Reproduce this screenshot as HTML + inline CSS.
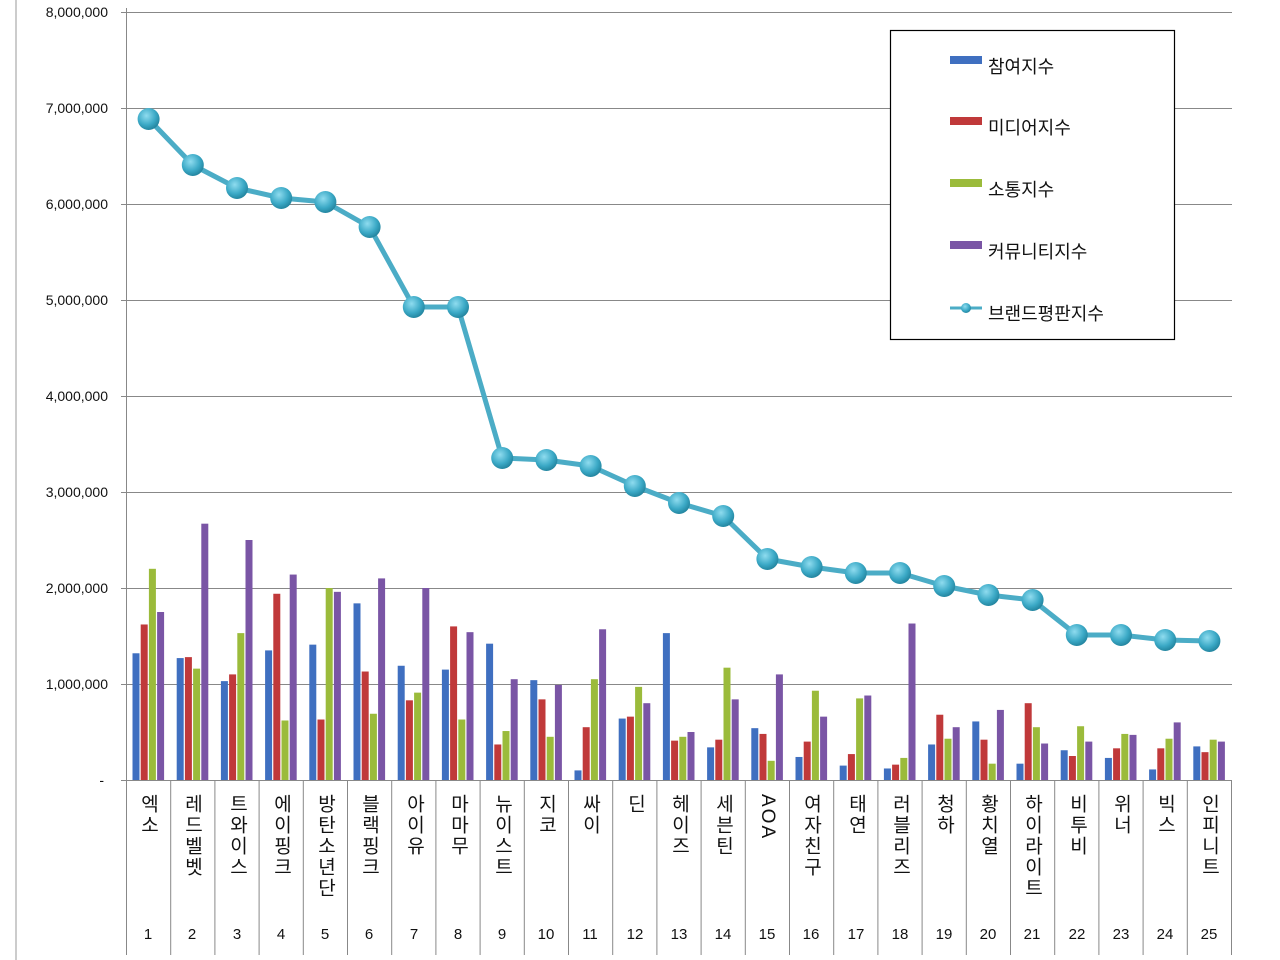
<!DOCTYPE html>
<html><head><meta charset="utf-8"><style>
body{margin:0;background:#fff;width:1280px;height:960px;overflow:hidden;position:relative;font-family:"Liberation Sans","Noto Sans CJK KR",sans-serif}
.lab{position:absolute;top:794px;writing-mode:vertical-lr;text-orientation:mixed;font-size:19px;letter-spacing:2px;color:#111;transform:translateX(-50%)}
</style></head><body>
<svg id="s" width="1280" height="960" style="position:absolute;left:0;top:0">
<defs>
<radialGradient id="mk" cx="0.4" cy="0.35" r="0.7"><stop offset="0" stop-color="#8fdcef"/><stop offset="0.6" stop-color="#3ba9c6"/><stop offset="1" stop-color="#1f7f99"/></radialGradient>
</defs>
<line x1="16" y1="0" x2="16" y2="960" stroke="#999" stroke-width="1"/>
<g font-size="14" fill="#111" text-anchor="end">
<text x="108" y="17">8,000,000</text>
<text x="108" y="113">7,000,000</text>
<text x="108" y="209">6,000,000</text>
<text x="108" y="305">5,000,000</text>
<text x="108" y="401">4,000,000</text>
<text x="108" y="497">3,000,000</text>
<text x="108" y="593">2,000,000</text>
<text x="108" y="689">1,000,000</text>
<text x="104" y="785">-</text>
</g>
<g id="grid"></g>
<g id="bars"></g>
<g id="line"></g>
<g font-size="15" fill="#111" text-anchor="middle">
<text x="148" y="939">1</text><text x="192" y="939">2</text><text x="237" y="939">3</text><text x="281" y="939">4</text><text x="325" y="939">5</text><text x="369" y="939">6</text><text x="414" y="939">7</text><text x="458" y="939">8</text><text x="502" y="939">9</text><text x="546" y="939">10</text><text x="590" y="939">11</text><text x="635" y="939">12</text><text x="679" y="939">13</text><text x="723" y="939">14</text><text x="767" y="939">15</text><text x="811" y="939">16</text><text x="856" y="939">17</text><text x="900" y="939">18</text><text x="944" y="939">19</text><text x="988" y="939">20</text><text x="1032" y="939">21</text><text x="1077" y="939">22</text><text x="1121" y="939">23</text><text x="1165" y="939">24</text><text x="1209" y="939">25</text>
</g>
<rect x="890.5" y="30.5" width="284" height="309" fill="#fff" stroke="#000" stroke-width="1.2"/>
<rect x="950" y="56" width="32" height="8" fill="#3f6fc0"/>
<rect x="950" y="117" width="32" height="8" fill="#c0393a"/>
<rect x="950" y="179" width="32" height="8" fill="#9bbb3b"/>
<rect x="950" y="241" width="32" height="8" fill="#7a55a5"/>
<line x1="950" y1="308" x2="982" y2="308" stroke="#4bacc6" stroke-width="3"/>
<circle cx="966" cy="308" r="5" fill="url(#mk)"/>
<g font-size="18" fill="#111">
<text x="988" y="73">참여지수</text>
<text x="988" y="134">미디어지수</text>
<text x="988" y="196">소통지수</text>
<text x="988" y="258">커뮤니티지수</text>
<text x="988" y="320">브랜드평판지수</text>
</g>
</svg>
<div class="lab" style="left:148px">엑소</div>
<div class="lab" style="left:192px">레드벨벳</div>
<div class="lab" style="left:237px">트와이스</div>
<div class="lab" style="left:281px">에이핑크</div>
<div class="lab" style="left:325px">방탄소년단</div>
<div class="lab" style="left:369px">블랙핑크</div>
<div class="lab" style="left:414px">아이유</div>
<div class="lab" style="left:458px">마마무</div>
<div class="lab" style="left:502px">뉴이스트</div>
<div class="lab" style="left:546px">지코</div>
<div class="lab" style="left:590px">싸이</div>
<div class="lab" style="left:635px">딘</div>
<div class="lab" style="left:679px">헤이즈</div>
<div class="lab" style="left:723px">세븐틴</div>
<div class="lab" style="left:767px">AOA</div>
<div class="lab" style="left:811px">여자친구</div>
<div class="lab" style="left:856px">태연</div>
<div class="lab" style="left:900px">러블리즈</div>
<div class="lab" style="left:944px">청하</div>
<div class="lab" style="left:988px">황치열</div>
<div class="lab" style="left:1032px">하이라이트</div>
<div class="lab" style="left:1077px">비투비</div>
<div class="lab" style="left:1121px">위너</div>
<div class="lab" style="left:1165px">빅스</div>
<div class="lab" style="left:1209px">인피니트</div>
<script>
var NS="http://www.w3.org/2000/svg";
function el(p,t,a){var e=document.createElementNS(NS,t);for(var k in a)e.setAttribute(k,a[k]);document.getElementById(p).appendChild(e);return e;}
var L=126.5,W=44.2,Y0=780,S=96;
for(var i=1;i<=8;i++){var y=Y0-i*S+0.5;el("grid","line",{x1:121,x2:1232,y1:y,y2:y,stroke:"#888","stroke-width":1});}
el("grid","line",{x1:121,x2:1232,y1:780.5,y2:780.5,stroke:"#888","stroke-width":1});
el("grid","line",{x1:L,x2:L,y1:8,y2:955,stroke:"#888","stroke-width":1});
for(var i=1;i<=25;i++){var x=L+W*i;el("grid","line",{x1:x,x2:x,y1:780,y2:955,stroke:"#888","stroke-width":1});}
var D=[[1.32,1.62,2.2,1.75],[1.27,1.28,1.16,2.67],[1.03,1.1,1.53,2.5],[1.35,1.94,0.62,2.14],[1.41,0.63,2.0,1.96],[1.84,1.13,0.69,2.1],[1.19,0.83,0.91,2.0],[1.15,1.6,0.63,1.54],[1.42,0.37,0.51,1.05],[1.04,0.84,0.45,0.99],[0.1,0.55,1.05,1.57],[0.64,0.66,0.97,0.8],[1.53,0.41,0.45,0.5],[0.34,0.42,1.17,0.84],[0.54,0.48,0.2,1.1],[0.24,0.4,0.93,0.66],[0.15,0.27,0.85,0.88],[0.12,0.16,0.23,1.63],[0.37,0.68,0.43,0.55],[0.61,0.42,0.17,0.73],[0.17,0.8,0.55,0.38],[0.31,0.25,0.56,0.4],[0.23,0.33,0.48,0.47],[0.11,0.33,0.43,0.6],[0.35,0.29,0.42,0.4]];
var C=["#3f6fc0","#c0393a","#9bbb3b","#7a55a5"];
D.forEach(function(g,i){var x0=L+W*i+6;g.forEach(function(v,j){var h=v*S;el("bars","rect",{x:x0+j*8.2,y:Y0-h,width:7,height:h,fill:C[j]});});});
var LY=[119,165,188,198,202,227,307,307,458,460,466,486,503,516,559,567,573,573,586,595,600,635,635,640,641];
var pts=LY.map(function(y,i){return (L+W*(i+0.5)).toFixed(1)+","+y;}).join(" ");
el("line","polyline",{points:pts,fill:"none",stroke:"#4bacc6","stroke-width":5,"stroke-linejoin":"round"});
LY.forEach(function(y,i){el("line","circle",{cx:L+W*(i+0.5),cy:y,r:11,fill:"url(#mk)"});});
</script>
</body></html>
